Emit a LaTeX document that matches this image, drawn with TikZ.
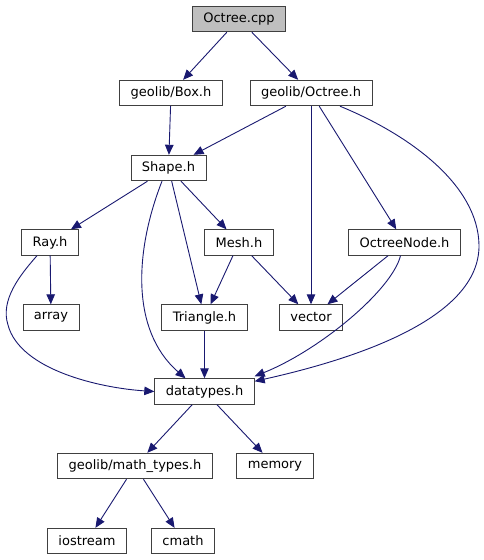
\documentclass[tikz,border=0pt]{standalone}
\usepackage{fontspec}
\setmainfont{DejaVu Sans}
\usepackage{xcolor}
\usepackage{tikz}
\usetikzlibrary{arrows.meta}
\definecolor{edgeblue}{RGB}{25,25,112}
\definecolor{rootgray}{RGB}{191,191,191}

\begin{document}
\begin{tikzpicture}[
    x=1pt, y=-1pt,
    every node/.style={font=\fontsize{13}{15}\selectfont},
    file/.style={draw=black!75, line width=.9pt, minimum height=25.5pt,
      inner xsep=11pt, inner ysep=0pt, fill=white},
    root/.style={file, fill=rootgray},
    incl/.style={-{Triangle[length=10pt, width=8.5pt]}, line width=.9pt, draw=edgeblue}
  ]
    \useasboundingbox (0,0) rectangle (484,560);
    \node[root] (octreecpp) at (239,19) {Octree.cpp};
    \node[file] (boxh) at (171,93) {geolib/Box.h};
    \node[file] (octreeh) at (311,93) {geolib/Octree.h};
    \node[file] (shape) at (168.5,168) {Shape.h};
    \node[file] (ray) at (50,242.5) {Ray.h};
    \node[file] (mesh) at (239,242.5) {Mesh.h};
    \node[file] (octreenode) at (404.5,242.5) {OctreeNode.h};
    \node[file] (array) at (51,317.5) {array};
    \node[file] (triangle) at (204.5,317.5) {Triangle.h};
    \node[file] (vector) at (311,317.5) {vector};
    \node[file] (datatypes) at (204.5,391.5) {datatypes.h};
    \node[file] (mathtypes) at (135,466) {geolib/math\_types.h};
    \node[file] (memory) at (275,466) {memory};
    \node[file] (iostream) at (87,541) {iostream};
    \node[file] (cmath) at (183,541) {cmath};

    \draw[incl] (octreecpp) -- (boxh);
    \draw[incl] (octreecpp) -- (octreeh);
    \draw[incl] (boxh) -- (shape);
    \draw[incl] (octreeh) -- (shape);
    \draw[incl] (octreeh) -- (vector);
    \draw[incl] (octreeh) -- (octreenode);
    \draw[incl] ([xshift=29pt]octreeh.south) .. controls (410,135) and (478,185) .. (479,245)
      .. controls (480,320) and (350,360) .. ([yshift=-3pt]datatypes.north east);
    \draw[incl] (shape) -- (ray);
    \draw[incl] ([xshift=-6.5pt]shape.south) .. controls (135,250) and (130,330)
      .. ([xshift=-19pt]datatypes.north);
    \draw[incl] (shape) -- (triangle);
    \draw[incl] (shape) -- (mesh);
    \draw[incl] (ray) -- (array);
    \draw[incl] ([xshift=-13pt]ray.south) .. controls (20,275) and (0,300) .. (8,325)
      .. controls (20,370) and (100,388) .. (datatypes.west);
    \draw[incl] (mesh) -- (triangle);
    \draw[incl] (mesh) -- (vector);
    \draw[incl] (octreenode) -- (vector);
    \draw[incl] ([xshift=-4pt]octreenode.south) .. controls (392,290) and (320,350)
      .. ([yshift=2pt]datatypes.north east);
    \draw[incl] (triangle) -- (datatypes);
    \draw[incl] (datatypes) -- (mathtypes);
    \draw[incl] (datatypes) -- (memory);
    \draw[incl] (mathtypes) -- (iostream);
    \draw[incl] (mathtypes) -- (cmath);
  \end{tikzpicture}
\end{document}
